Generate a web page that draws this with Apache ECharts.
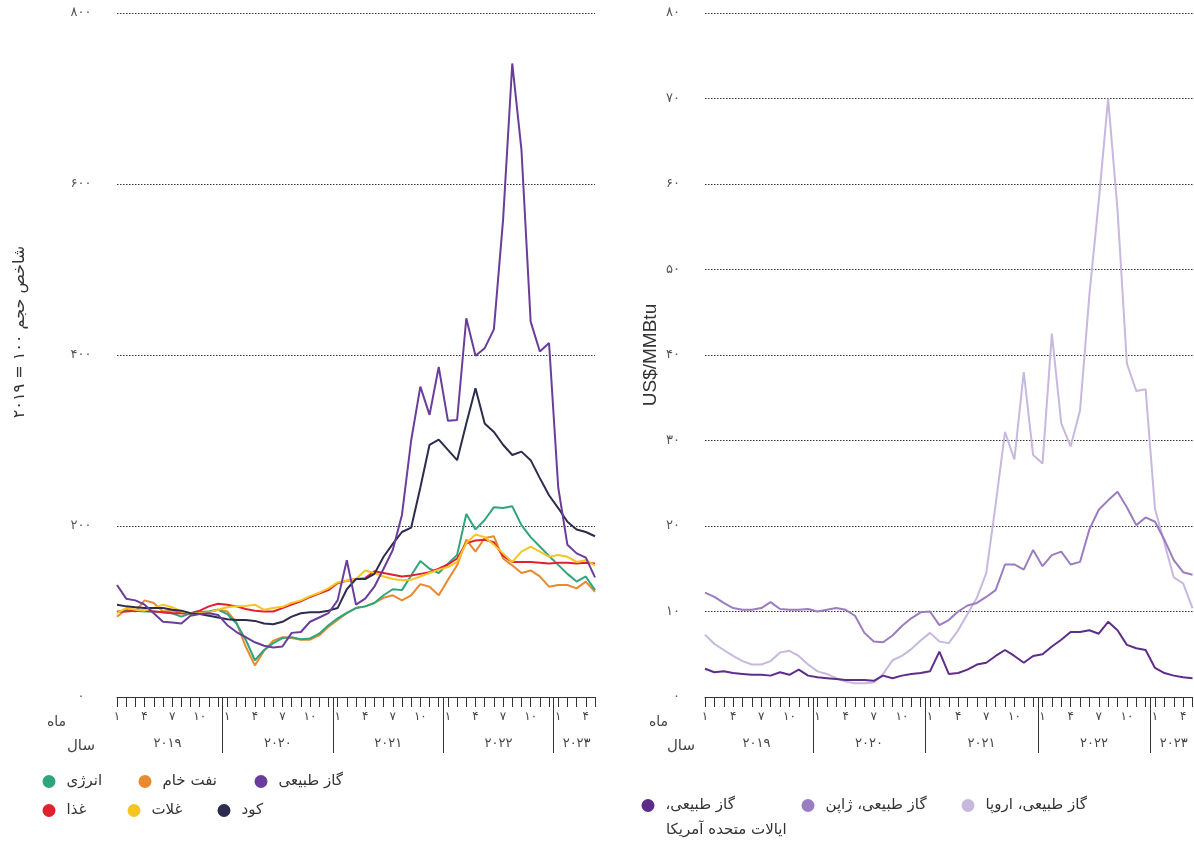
<!DOCTYPE html>
<html><head><meta charset="utf-8">
<script src="https://cdn.jsdelivr.net/npm/echarts@6/dist/echarts.min.js"></script>
<style>html,body{margin:0;padding:0;background:#fff}#c{width:1194px;height:841px}</style>
</head><body><div id="c"></div>
<script>
// ---------- data (monthly, Jan 2019 .. May 2023) ----------
const faDigits = ['۰','۱','۲','۳','۴','۵','۶','۷','۸','۹'];
const yearLabels = ['۲۰۱۹','۲۰۲۰','۲۰۲۱','۲۰۲۲','۲۰۲۳'];
const monthCount = 53;
const leftYTicks = [0, 200, 400, 600, 800];
const rightYTicks = [0, 10, 20, 30, 40, 50, 60, 70, 80];

const energy = [99,101,101,100,100,99,98,94,98,99, 100,102,97,86,67,43,55,63,69,70, 67.5,68.5,74,84,92,98.5,104,106,110,119, 126,125,142,159,150,145,156,166,214,196, 207,222,221,223,201,187,176,165,154.5,144, 135,141,125];
const crude = [94,102,100,113,110,100,101,98,97,99, 100,102,100,87,59,37,54,66,70,69, 67,67,72,82,90,98,104,106,110,116, 119,113,119,132,129,119,137,154,184,170, 186,188,162,154,145,148,141,129,131,131, 127,135,123];
const natGas = [131,115,113,108,98,88,87,86,95,97, 98,96,84,76,70,64,60,58,59,75, 76,88,93,98,113,160,108,115,129,150, 172,213,300,363,330,386,323,324,443,399, 408,430,558,741,640,439,404,414,245,178, 168,163,140];
const food = [100,100,101,101,100,99,98,98,98,101, 106,109,108,106,103,101,100,100,104,108, 112,117,121,125,133,136,138,139,147,145, 143,141,142,144,146,150,155,162,180,183, 184,181,165,158,158,158,157,156,157,157, 156,157,156];
const grains = [98,104,102,101,104,108,105,100,98,98, 99,102,105,106,106.5,108,102,104,105.5,110, 113,118,122,127,134,136,138,148,145,141, 138,136.5,137,141,145,149,152,158,180,190, 187,178,168,158,170,176,170,164,166,164, 158,160,154];
const fertilizer = [108,106,105,104,104,104,102,101,98,97, 95,93,91,90,90,89,86,85,88,94, 98,99,99,101,104,126,138,138,144,164, 179,193,198,245,295,301,289,277,320,361, 320,310,295,283,287,277,256,236,221,205, 196,193,188];

const gasUS = [3.3,2.9,3.0,2.8,2.7,2.6,2.6,2.5,2.9,2.6, 3.2,2.5,2.3,2.2,2.1,2.0,2.0,2.0,1.9,2.5, 2.2,2.5,2.7,2.8,3.0,5.3,2.7,2.8,3.2,3.8, 4.0,4.8,5.5,4.8,4.0,4.8,5.0,5.9,6.7,7.6, 7.6,7.8,7.4,8.8,7.8,6.1,5.7,5.5,3.4,2.8, 2.5,2.3,2.2];
const gasJapan = [12.2,11.7,11.0,10.4,10.2,10.2,10.4,11.1,10.3,10.2, 10.2,10.3,10.0,10.2,10.4,10.2,9.5,7.5,6.5,6.4, 7.2,8.3,9.2,9.9,10.0,8.4,9.0,10.0,10.7,11.0, 11.7,12.5,15.5,15.5,14.9,17.2,15.3,16.6,17.0,15.5, 15.8,19.6,21.9,23.0,24.0,22.2,20.1,21.0,20.5,18.4, 16.0,14.6,14.3];
const gasEurope = [7.3,6.2,5.5,4.8,4.2,3.8,3.8,4.2,5.2,5.4, 4.8,3.8,3.0,2.7,2.2,1.8,1.6,1.6,1.7,2.7, 4.3,4.8,5.6,6.6,7.5,6.5,6.3,7.8,9.7,11.6, 14.5,22.5,31.0,27.8,38.0,28.3,27.3,42.5,32.0,29.3, 33.5,47.0,58.0,70.0,57.0,39.0,35.8,36.0,22.0,18.0, 14.0,13.3,10.4];

const leftSeries = [
  {name:'نفت خام', data:crude, color:'#ea8a2e'},
  {name:'انرژی', data:energy, color:'#2fa57f'},
  {name:'غذا', data:food, color:'#e3202f'},
  {name:'غلات', data:grains, color:'#f7c522'},
  {name:'کود', data:fertilizer, color:'#2b2c4e'},
  {name:'گاز طبیعی', data:natGas, color:'#6b3d9a'}
];
const US_LINE1 = 'گاز طبیعی،\u200F';
const US_LINE2 = 'ایالات متحده آمریکا';
const US_NAME = US_LINE1 + '\n' + US_LINE2;
const rightSeries = [
  {name:'گاز طبیعی، اروپا', data:gasEurope, color:'#c8b8de'},
  {name:'گاز طبیعی، ژاپن', data:gasJapan, color:'#9a7cc0'},
  {name:US_NAME, data:gasUS, color:'#5e2d8a'}
];

// ---------- helpers ----------
const fa = n => String(n).replace(/\d/g, d => faDigits[+d]);
const FONT = 'DejaVu Sans';
const allMonths = Array.from({length: monthCount}, (_, i) => i);
const monthLabelVals = allMonths.filter(i => (i % 12) % 3 === 0);
const yearSepVals = [11.5, 23.5, 35.5, 47.5];
const yearCenterVals = [5.5, 17.5, 29.5, 41.5, 50];

function xAxes(gridIndex) {
  const base = {type:'value', gridIndex, min:0, max:monthCount-1, position:'bottom', splitLine:{show:false}};
  return [
    Object.assign({}, base, {
      axisLine:{show:true, lineStyle:{color:'#333', width:1}},
      axisTick:{show:true, customValues: allMonths, length:10, lineStyle:{color:'#333', width:1}},
      axisLabel:{customValues: monthLabelVals, formatter: v => fa((v % 12) + 1), margin:14, fontSize:12, color:'#444', fontFamily:FONT}
    }),
    Object.assign({}, base, {
      axisLine:{show:false},
      axisTick:{show:true, customValues: yearSepVals, length:56, lineStyle:{color:'#333', width:1}},
      axisLabel:{customValues: yearCenterVals, formatter: v => yearLabels[Math.floor(v / 12)], margin:40, fontSize:13, color:'#444', fontFamily:FONT}
    })
  ];
}
function yAxis(gridIndex, max, interval, margin, align) {
  return {type:'value', gridIndex, min:0, max, interval,
    axisLine:{show:false}, axisTick:{show:false},
    splitLine:{show:true, lineStyle:{color:'#333', width:1, type:[1.5,1.5]}},
    axisLabel:{formatter: v => fa(v), fontSize:13, color:'#555', margin, align, fontFamily:FONT}};
}
function mkSeries(list, axisIdx) {
  return list.map(s => ({
    name:s.name, type:'line', xAxisIndex:axisIdx, yAxisIndex:axisIdx/2, showSymbol:false, silent:true,
    data: s.data.map((v, i) => [i, v]), color:s.color,
    lineStyle:{width:2, color:s.color}, emphasis:{disabled:true}
  }));
}
function legendItem(name, left, top) {
  return {data:[name], left, top, padding:0, icon:'circle', itemWidth:13, itemHeight:13, selectedMode:false,
    formatter: n => n.split('\n')[0],
    textStyle:{fontSize:15, color:'#333', fontFamily:FONT, padding:[0,0,0,6]}};
}

const chart = echarts.init(document.getElementById('c'), null, {renderer:'canvas'});
chart.setOption({
  animation:false,
  backgroundColor:'#fff',
  grid:[
    {left:117, top:13, width:478, height:684},
    {left:705, top:13, width:487.5, height:684}
  ],
  xAxis:[...xAxes(0), ...xAxes(1)],
  yAxis:[yAxis(0, 800, 200, 36, 'center'), yAxis(1, 80, 10, 25, 'right')],
  series:[...mkSeries(leftSeries, 0), ...mkSeries(rightSeries, 2)],
  legend:[
    legendItem('انرژی', 42.5, 774),
    legendItem('نفت خام', 138.5, 774),
    legendItem('گاز طبیعی', 254.5, 774),
    legendItem('غذا', 42.5, 803),
    legendItem('غلات', 127.5, 803),
    legendItem('کود', 217.5, 803),
    legendItem(US_NAME, 641.5, 798),
    legendItem('گاز طبیعی، ژاپن', 801.5, 798),
    legendItem('گاز طبیعی، اروپا', 961.5, 798)
  ],
  graphic:[
    {type:'text', x:20, y:332, rotation:Math.PI/2, style:{text:'شاخص حجم ۱۰۰ = ۲۰۱۹', align:'center', verticalAlign:'middle', fontSize:16, fill:'#333', fontFamily:FONT}},
    {type:'text', x:651, y:355, rotation:Math.PI/2, style:{text:'US$/MMBtu', align:'center', verticalAlign:'middle', fontSize:19, fill:'#333', fontFamily:'Liberation Sans'}},
    {type:'text', x:666, y:830, style:{text:US_LINE2, align:'left', verticalAlign:'middle', fontSize:15, fill:'#333', fontFamily:FONT}},
    {type:'text', x:66, y:722, style:{text:'ماه', align:'right', verticalAlign:'middle', fontSize:14, fill:'#444', fontFamily:FONT}},
    {type:'text', x:95, y:746, style:{text:'سال', align:'right', verticalAlign:'middle', fontSize:15, fill:'#444', fontFamily:FONT}},
    {type:'text', x:668, y:722, style:{text:'ماه', align:'right', verticalAlign:'middle', fontSize:14, fill:'#444', fontFamily:FONT}},
    {type:'text', x:695, y:746, style:{text:'سال', align:'right', verticalAlign:'middle', fontSize:15, fill:'#444', fontFamily:FONT}}
  ]
});
</script></body></html>
